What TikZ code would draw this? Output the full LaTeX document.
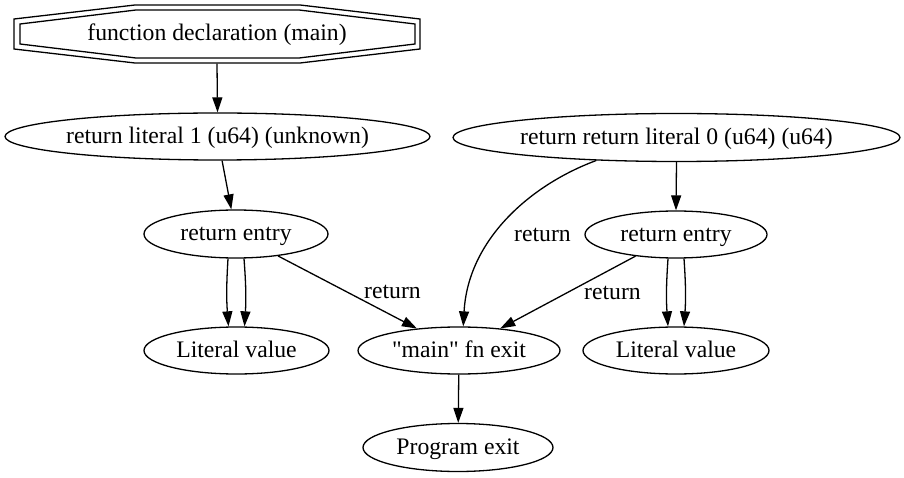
\documentclass[tikz,border=0pt]{standalone}
\usepackage{fontspec}
\setmainfont{Liberation Serif}[Ligatures=TeXOff]
\usetikzlibrary{shapes.geometric,arrows.meta}
\begin{document}
\begin{tikzpicture}[x=1pt,y=1pt,
  font=\fontsize{23.7}{28}\selectfont,
  every path/.style={line width=1.3pt},
  ell/.style={ellipse, draw, inner xsep=0pt, inner ysep=0pt, text height=17pt, text depth=3.6pt, line width=1.3pt},
  arr/.style={-{Triangle[length=15pt,width=10pt]}, line width=1.3pt},
  lbl/.style={inner sep=0pt}]
\useasboundingbox (0,0) rectangle (904,477);
% octagon (double)
\node[inner sep=0pt, text height=17pt, text depth=4.5pt, minimum width=406pt, minimum height=58pt] (fd) at (217,443) {function declaration (main)};
\draw (135,472) -- (300,472) -- (420,458) -- (420,428) -- (300,414) -- (135,414) -- (14,428) -- (14,458) -- cycle;
\draw (136,467) -- (299,467) -- (415,453) -- (415,433) -- (299,419) -- (136,419) -- (20,433) -- (20,453) -- cycle;
% ellipses
\node[ell, inner xsep=-3pt, minimum width=425pt, minimum height=47pt] (lit1) at (217.5,340.5) {return literal 1 (u64) (unknown)};
\node[ell, inner xsep=-3pt, minimum width=447pt, minimum height=48pt] (rr) at (676.5,339.5) {return return literal 0 (u64) (u64)};
\node[ell, minimum width=184pt, minimum height=48pt] (entryL) at (236,243) {return entry};
\node[ell, minimum width=182pt, minimum height=47pt] (entryR) at (676,242.5) {return entry};
\node[ell, minimum width=185pt, minimum height=47pt] (litL) at (236.5,126.5) {Literal value};
\node[ell, minimum width=186pt, minimum height=47pt] (litR) at (676,126.5) {Literal value};
\node[ell, minimum width=202pt, minimum height=47pt] (mexit) at (459,126.5) {"main" fn exit};
\node[ell, minimum width=190pt, minimum height=48pt] (pexit) at (458,29.5) {Program exit};
% edges
\draw[arr] (fd.south) -- (lit1.north);
\draw[arr] (lit1) -- (entryL);
\draw[arr] ([xshift=-8pt]entryL.south) to[bend right=4] ([xshift=-8pt]litL.north);
\draw[arr] ([xshift=8pt]entryL.south) to[bend left=4] ([xshift=8pt]litL.north);
\draw[arr] (entryL) -- (mexit);
\draw[arr] (rr.south) -- (entryR.north);
\draw[arr] (rr.196) .. controls (530,292) and (468,237) .. (mexit.80);
\draw[arr] (entryR) -- (mexit);
\draw[arr] ([xshift=-8pt]entryR.south) to[bend right=4] ([xshift=-8pt]litR.north);
\draw[arr] ([xshift=8pt]entryR.south) to[bend left=4] ([xshift=8pt]litR.north);
\draw[arr] (mexit) -- (pexit);
% labels
\node[lbl] (l1) at (392.5,185) {return};
\node[lbl] (l2) at (542.5,242) {return};
\node[lbl] (l3) at (612.5,184) {return};
\end{tikzpicture}
\end{document}
